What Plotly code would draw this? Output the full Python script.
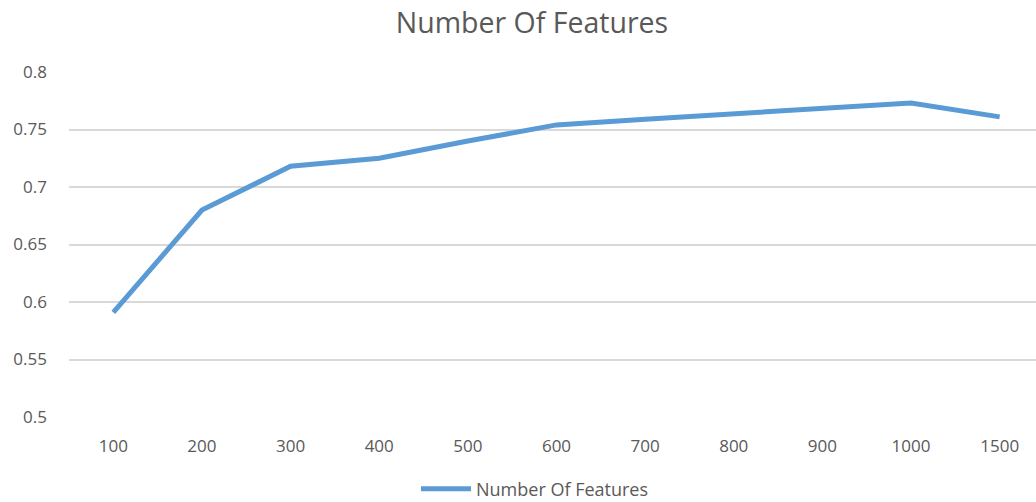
import plotly.graph_objects as go

features = ["100", "200", "300", "400", "500", "600", "700", "800", "900", "1000", "1500"]
scores = [0.591, 0.680, 0.718, 0.725, 0.740, 0.754, 0.759, 0.764, 0.769, 0.773, 0.761]
y_ticks = [0.5, 0.55, 0.6, 0.65, 0.7, 0.75, 0.8]
y_tick_text = ["0.5", "0.55", "0.6", "0.65", "0.7", "0.75", "0.8"]

text_color = "#595959"
font_family = "'Open Sans', Lato, sans-serif"

fig = go.Figure()
fig.add_trace(go.Scatter(
    x=list(range(len(features))),
    y=scores,
    mode="lines",
    name="Number Of Features",
    line=dict(color="#5B9BD5", width=5),
))

fig.update_layout(
    width=1036,
    height=502,
    paper_bgcolor="white",
    plot_bgcolor="white",
    margin=dict(l=69, r=0, t=72, b=85),
    title=dict(
        text="Number Of Features",
        x=532 / 1036, xref="container", xanchor="center",
        y=1 - 23 / 502, yref="container", yanchor="middle",
        font=dict(family=font_family, size=28.5, color=text_color),
    ),
    font=dict(family=font_family, size=17, color=text_color),
    showlegend=True,
    legend=dict(
        orientation="h",
        x=535 / 1036, xref="container", xanchor="center",
        y=13 / 502, yref="container", yanchor="middle",
        font=dict(size=18, color=text_color),
        itemwidth=50,
    ),
    xaxis=dict(
        tickmode="array",
        tickvals=list(range(len(features))),
        ticktext=features,
        range=[-0.5, 10.41],
        showgrid=False,
        zeroline=False,
        showline=False,
        ticks="",
        ticklabelstandoff=17,
        tickfont=dict(size=17, color=text_color),
    ),
    yaxis=dict(
        range=[0.5, 0.8],
        tickmode="array",
        tickvals=y_ticks,
        ticktext=y_tick_text,
        showgrid=True,
        gridcolor="#D9D9D9",
        gridwidth=1.5,
        zeroline=False,
        showline=False,
        ticks="",
        ticklabelstandoff=21,
        tickfont=dict(size=17, color=text_color),
    ),
)

fig.write_html("out.html")
